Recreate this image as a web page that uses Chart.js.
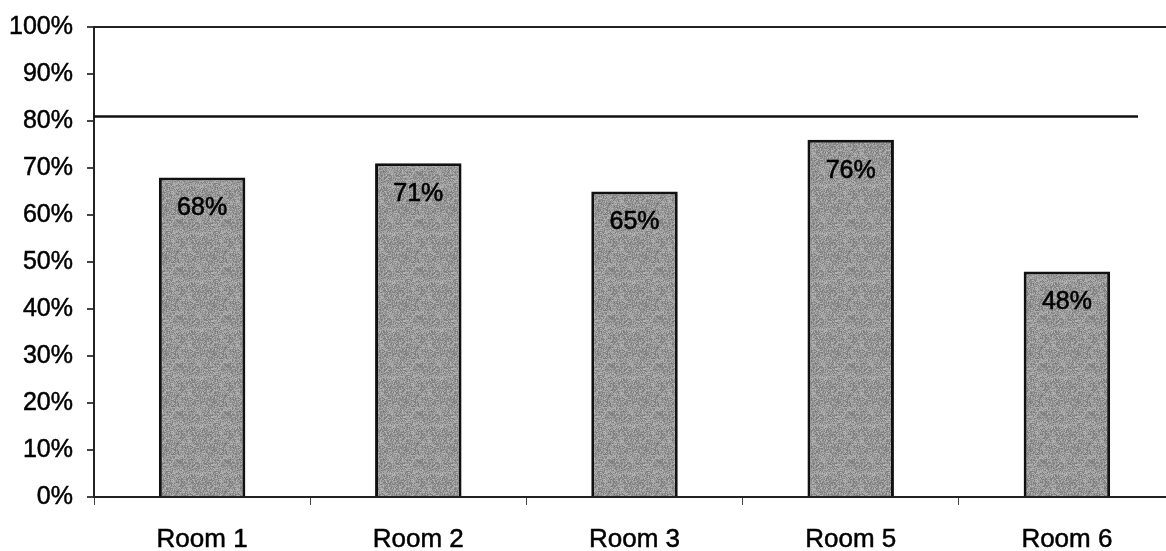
<!DOCTYPE html>
<html>
<head>
<meta charset="utf-8">
<script src="https://cdn.jsdelivr.net/npm/chart.js@4/dist/chart.umd.min.js"></script>
<style>
  html, body { margin: 0; padding: 0; background: #fff; overflow: hidden; }
  #wrap { width: 1175px; height: 551px; position: relative; }
</style>
</head>
<body>
<div id="wrap"><canvas id="c" width="1175" height="551"></canvas></div>
<script>
// Occupancy per room
const rooms = ['Room 1', 'Room 2', 'Room 3', 'Room 5', 'Room 6'];
const occupancy = [68, 71, 65, 76, 48];
const targetLevel = 81;
const yTicks = [0, 10, 20, 30, 40, 50, 60, 70, 80, 90, 100];

// Grainy grey fill for the bars (deterministic hash noise)
function grainPattern() {
  const t = document.createElement('canvas');
  t.width = 48; t.height = 48;
  const g = t.getContext('2d');
  const img = g.createImageData(48, 48);
  for (let y = 0; y < 48; y++) {
    for (let x = 0; x < 48; x++) {
      let h = (x * 374761393 + y * 668265263) >>> 0;
      h = ((h ^ (h >>> 13)) * 1274126177) >>> 0;
      const v = 120 + ((h >>> 8) % 64);
      const i = (y * 48 + x) * 4;
      img.data[i] = v; img.data[i + 1] = v; img.data[i + 2] = v; img.data[i + 3] = 255;
    }
  }
  g.putImageData(img, 0, 0);
  return g.createPattern(t, 'repeat');
}

const font = "'Liberation Sans', Arial, sans-serif";

const refLine = {
  id: 'refLine',
  afterDatasetsDraw(chart) {
    const { ctx, chartArea, scales } = chart;
    const y = Math.round(scales.y.getPixelForValue(targetLevel)) + 0.5;
    ctx.save();
    ctx.strokeStyle = '#111';
    ctx.lineWidth = 2.5;
    ctx.beginPath();
    ctx.moveTo(chartArea.left, y);
    ctx.lineTo(chartArea.right - 37, y);
    ctx.stroke();
    ctx.restore();
  }
};

const barLabels = {
  id: 'barLabels',
  afterDatasetsDraw(chart) {
    const { ctx } = chart;
    const meta = chart.getDatasetMeta(0);
    ctx.save();
    ctx.fillStyle = '#000';
    ctx.strokeStyle = '#000';
    ctx.lineWidth = 0.6;
    ctx.font = '25px ' + font;
    ctx.textAlign = 'center';
    ctx.textBaseline = 'middle';
    meta.data.forEach((bar, i) => {
      const t = occupancy[i] + '%';
      ctx.fillText(t, bar.x, bar.y + 31);
      ctx.strokeText(t, bar.x, bar.y + 31);
    });
    ctx.restore();
  }
};

new Chart(document.getElementById('c'), {
  type: 'bar',
  data: {
    labels: rooms,
    datasets: [{
      data: occupancy,
      backgroundColor: grainPattern(),
      borderColor: '#111',
      borderWidth: 3,
      barPercentage: 0.4,
      categoryPercentage: 1.0
    }]
  },
  options: {
    responsive: false,
    animation: false,
    layout: { padding: { top: 27, right: 0, left: 0, bottom: 0 } },
    plugins: { legend: { display: false }, tooltip: { enabled: false } },
    scales: {
      x: {
        offset: true,
        border: { display: true, color: '#222', width: 2 },
        grid: { drawOnChartArea: false, color: '#444', tickColor: '#444', tickLength: 8 },
        ticks: {
          color: '#000', font: { family: font, size: 26 }, padding: 19,
          textStrokeColor: '#000', textStrokeWidth: 0.5
        },
        afterFit(s) { s.height = 54; }
      },
      y: {
        min: 0, max: 100,
        afterBuildTicks(s) { s.ticks = yTicks.map(v => ({ value: v })); },
        border: { display: true, color: '#222', width: 2 },
        grid: {
          color: (c) => (c.tick && c.tick.value === 100 ? '#222' : 'rgba(0,0,0,0)'),
          lineWidth: 2,
          tickColor: '#444',
          tickLength: 7
        },
        ticks: {
          color: '#000',
          font: { family: font, size: 25 },
          padding: 14,
          textStrokeColor: '#000', textStrokeWidth: 0.5,
          callback: (v) => v + '%'
        },
        afterFit(s) { s.width = 94; s.paddingTop = 0; s.paddingBottom = 0; }
      }
    }
  },
  plugins: [refLine, barLabels]
});
</script>
</body>
</html>
